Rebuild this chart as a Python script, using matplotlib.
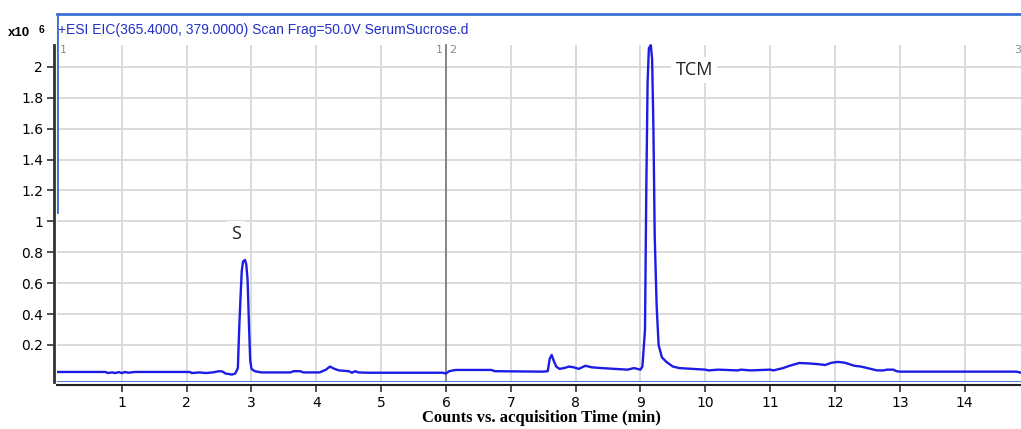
import numpy as np
import matplotlib
matplotlib.use('Agg')
from matplotlib import pyplot as plt
from matplotlib.patches import Rectangle

# EIC trace, time in min, counts in units of 1e6
time_min = [0.00, 0.75, 0.78, 0.85, 0.90, 0.95, 1.00, 1.05, 1.10, 1.20,
            2.05, 2.08, 2.20, 2.30, 2.40, 2.50, 2.55, 2.60, 2.70, 2.75,
            2.79, 2.81, 2.83, 2.85, 2.87, 2.90, 2.92, 2.94, 2.96, 2.98,
            3.00, 3.05, 3.15, 3.60, 3.65, 3.75, 3.80, 4.05, 4.15, 4.21,
            4.28, 4.35, 4.50, 4.55, 4.60, 4.65, 4.80, 5.95, 6.00, 6.05,
            6.15, 6.70, 6.75, 7.50, 7.57, 7.60, 7.63, 7.66, 7.70, 7.75,
            7.82, 7.90, 7.97, 8.05, 8.15, 8.25, 8.40, 8.60, 8.80, 8.90,
            9.00, 9.03, 9.07, 9.09, 9.11, 9.13, 9.16, 9.18, 9.20, 9.22,
            9.25, 9.28, 9.33, 9.40, 9.50, 9.60, 9.80, 10.00, 10.05, 10.20,
            10.50, 10.55, 10.70, 11.00, 11.05, 11.20, 11.30, 11.45, 11.60, 11.75,
            11.85, 11.95, 12.05, 12.15, 12.30, 12.40, 12.50, 12.65, 12.75, 12.80,
            12.90, 12.95, 13.00, 14.80, 14.87]
counts = [0.025, 0.025, 0.018, 0.022, 0.018, 0.024, 0.018, 0.025, 0.020, 0.025,
          0.025, 0.018, 0.022, 0.018, 0.022, 0.030, 0.028, 0.015, 0.008, 0.015,
          0.050, 0.300, 0.500, 0.680, 0.740, 0.750, 0.720, 0.620, 0.350, 0.100,
          0.045, 0.030, 0.022, 0.022, 0.030, 0.030, 0.022, 0.022, 0.040, 0.060,
          0.045, 0.035, 0.030, 0.020, 0.030, 0.022, 0.020, 0.020, 0.015, 0.030,
          0.038, 0.038, 0.030, 0.027, 0.030, 0.110, 0.135, 0.100, 0.060, 0.045,
          0.050, 0.060, 0.055, 0.045, 0.065, 0.055, 0.050, 0.045, 0.040, 0.050,
          0.040, 0.060, 0.300, 1.200, 1.900, 2.120, 2.140, 2.050, 1.600, 0.900,
          0.450, 0.200, 0.120, 0.090, 0.060, 0.050, 0.045, 0.040, 0.035, 0.040,
          0.035, 0.040, 0.035, 0.040, 0.035, 0.050, 0.065, 0.083, 0.080, 0.075,
          0.070, 0.085, 0.090, 0.085, 0.065, 0.060, 0.050, 0.035, 0.035, 0.040,
          0.040, 0.030, 0.027, 0.027, 0.020]

x_ticks = list(range(1, 15))
y_ticks = [0.2, 0.4, 0.6, 0.8, 1.0, 1.2, 1.4, 1.6, 1.8, 2.0]
y_tick_labels = ['0.2', '0.4', '0.6', '0.8', '1', '1.2', '1.4', '1.6', '1.8', '2']

peak_labels = ['S', 'TCM']
peak_label_pos = [(2.76, 0.92), (9.83, 1.98)]
segment_marks = [6.0]

title = '+ESI EIC(365.4000, 379.0000) Scan Frag=50.0V SerumSucrose.d'
xlabel = 'Counts vs. acquisition Time (min)'

trace_color = '#1c1ce6'
frame_blue = '#3b6fd6'
grid_top = 2.14

fig = plt.figure(figsize=(10.21, 4.29), dpi=100)
ax = fig.add_axes([57 / 1021, 47 / 429, 964 / 1021, 368 / 429])
ax.set_xlim(0, 14.87)
ax.set_ylim(-0.04, 2.342)

ax.set_axisbelow(True)
ax.grid(True, color='#d8d8d8', linewidth=1.3)
# white band above the grid for the title
ax.add_patch(Rectangle((0, grid_top), 1, 1, transform=ax.get_yaxis_transform(),
                       facecolor='white', edgecolor='none', zorder=1))

ax.plot(time_min, counts, color=trace_color, linewidth=1.7, zorder=3)

for t in segment_marks:
    ax.plot([t, t], [-0.04, grid_top], color='#7f7f7f', linewidth=1.3, zorder=2)
    ax.text(t - 0.05, 2.11, '1', color='#8a8a8a', fontsize=8, ha='right', va='center')
    ax.text(t + 0.05, 2.11, '2', color='#8a8a8a', fontsize=8, ha='left', va='center')
ax.text(0.05, 2.11, '1', color='#8a8a8a', fontsize=8, ha='left', va='center')
ax.text(14.77, 2.11, '3', color='#8a8a8a', fontsize=8, ha='left', va='center')

for lab, (tx, ty) in zip(peak_labels, peak_label_pos):
    ax.text(tx, ty, lab, fontsize=13, color='#222222', family='Open Sans',
            ha='center', va='center', zorder=4,
            bbox=dict(facecolor='white', edgecolor='none', pad=3))

ax.text(0.02, 2.24, title, color='#2230c8', fontsize=10, ha='left', va='center',
        family='Liberation Sans', zorder=5)

ax.set_xticks(x_ticks)
ax.set_xticklabels([str(v) for v in x_ticks], fontweight='bold',
                   family='Liberation Sans', fontsize=10)
ax.set_yticks(y_ticks)
ax.set_yticklabels(y_tick_labels, fontweight='bold', family='Liberation Sans', fontsize=10)
ax.tick_params(axis='both', length=5, width=1.2, color='#333333', pad=3)

ax.spines['right'].set_visible(False)
ax.spines['top'].set_color(frame_blue)
ax.spines['top'].set_linewidth(2)
ax.spines['left'].set_position(('outward', 2))
ax.spines['left'].set_bounds(-0.04, grid_top)
ax.spines['left'].set_color('#333333')
ax.spines['left'].set_linewidth(2)
ax.spines['bottom'].set_position(('outward', 2))
ax.spines['bottom'].set_color('#222222')
ax.spines['bottom'].set_linewidth(1.5)
ax.axhline(-0.04, color=frame_blue, linewidth=2, zorder=2)
ax.axvline(0, ymin=(1.06 + 0.04) / 2.382, ymax=1, color=frame_blue, linewidth=2, zorder=2)

fig.text(8 / 1021, 1 - 33 / 429, 'x10', fontsize=9.5, fontweight='bold',
         family='Liberation Sans', va='center', ha='left')
fig.text(39 / 1021, 1 - 30 / 429, '6', fontsize=7.5, fontweight='bold',
         family='Liberation Sans', va='center', ha='left')

fig.text(541 / 1021, 1 - 418 / 429, xlabel, fontsize=12, fontweight='bold',
         family='Liberation Serif', ha='center', va='center')

fig.savefig('out.png', dpi=100)
